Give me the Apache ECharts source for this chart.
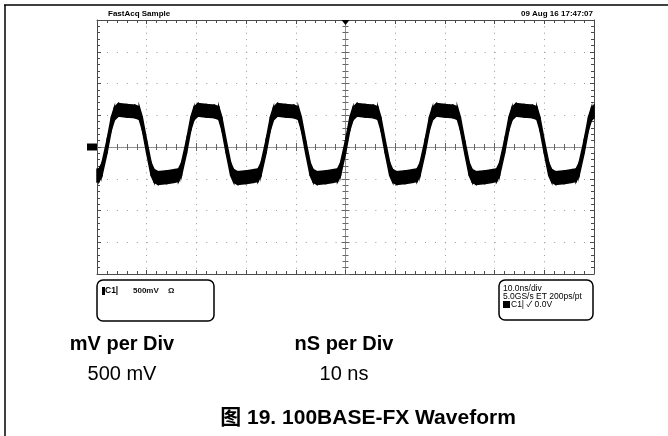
<!DOCTYPE html>
<html><head><meta charset="utf-8">
<script src="https://cdn.jsdelivr.net/npm/echarts@6/dist/echarts.min.js"></script>
<style>html,body{margin:0;padding:0;background:#fff}#c{width:668px;height:436px}</style>
</head><body><div id="c"></div>
<script>
// Scope settings
const nsPerDiv = 10;
const mvPerDiv = 500;
const timeRangeNs = [-50, 50];
const voltRangeMv = [-2000, 2000];

// Waveform (centre of the FastAcq trace)
const timeNs = [
  -50, -49.6, -49, -48, -47.1, -46.5, -45.7, -44, -42.4, -41.5, -40.9, -40, -39.1, -38.5, -37.7, -36, -34.4,
  -33.6, -33, -32, -31.1, -30.5, -29.7, -28, -26.4, -25.5, -24.9, -24, -23.1, -22.5, -21.7, -20, -18.4,
  -17.6, -17, -16, -15.1, -14.5, -13.7, -12, -10.4, -9.5, -8.9, -8, -7.1, -6.5, -5.7, -4, -2.4,
  -1.6, -1, 0, 0.9, 1.5, 2.3, 4, 5.6, 6.5, 7.1, 8, 8.9, 9.5, 10.3, 12, 13.6,
  14.4, 15, 16, 16.9, 17.5, 18.3, 20, 21.6, 22.5, 23.1, 24, 24.9, 25.5, 26.3, 28, 29.6,
  30.4, 31, 32, 32.9, 33.5, 34.3, 36, 37.6, 38.5, 39.1, 40, 40.9, 41.5, 42.3, 44, 45.6,
  46.4, 47, 48, 48.9, 49.5, 50
];
const voltMv = [
  -450, -445, -350, 0, 375, 525, 585, 570, 560, 535, 375, 0, -350, -455, -490, -475, -455,
  -445, -350, 0, 375, 525, 585, 570, 560, 535, 375, 0, -350, -455, -490, -475, -455,
  -445, -350, 0, 375, 525, 585, 570, 560, 535, 375, 0, -350, -455, -490, -475, -455,
  -445, -350, 0, 375, 525, 585, 570, 560, 535, 375, 0, -350, -455, -490, -475, -455,
  -445, -350, 0, 375, 525, 585, 570, 560, 535, 375, 0, -350, -455, -490, -475, -455,
  -445, -350, 0, 375, 525, 585, 570, 560, 535, 375, 0, -350, -455, -490, -475, -455,
  -445, -350, 0, 375, 525, 560
];
// Peak-to-peak thickness of the noisy trace
const traceBandMv = 200;

// Texts
const scopeMode = 'FastAcq Sample';
const scopeDate = '09 Aug 16 17:47:07';
const ch1Label = 'C1|';
const ch1Scale = '500mV';
const ch1Imp = 'Ω';
const timeInfo = ['10.0ns/div', '5.0GS/s ET 200ps/pt', 'C1| \u2713 0.0V'];
const tableHeads = ['mV per Div', 'nS per Div'];
const tableVals = ['500 mV', '10 ns'];
const caption = '图 19. 100BASE-FX Waveform';

const band = timeNs.map((t, i) => [t, voltMv[i] - traceBandMv / 2, voltMv[i] + traceBandMv / 2]);

const FONT = '"Liberation Sans", Arial, "Noto Sans CJK SC", sans-serif';
const frameColor = '#4a4a4a';
const gridDot = '#999';

function xAx(pos, onZero, extra) {
  return Object.assign({
    type: 'value', min: timeRangeNs[0], max: timeRangeNs[1], interval: nsPerDiv,
    position: pos,
    axisLine: onZero ? { show: true, onZero: true, onZeroAxisIndex: 0, lineStyle: { color: '#8a8a8a', type: 'dotted', width: 1 } }
                     : { show: true, onZero: false, lineStyle: { color: frameColor, width: 1 } },
    axisTick: { show: true, inside: true, length: 4, lineStyle: { color: onZero ? '#666' : frameColor } },
    minorTick: { show: true, splitNumber: 5, length: 3, lineStyle: { color: onZero ? '#666' : frameColor } },
    axisLabel: { show: false },
    splitLine: { show: false }
  }, extra || {});
}
function yAx(pos, onZero, extra) {
  return Object.assign({
    type: 'value', min: voltRangeMv[0], max: voltRangeMv[1], interval: mvPerDiv,
    position: pos,
    axisLine: onZero ? { show: true, onZero: true, onZeroAxisIndex: 0, lineStyle: { color: '#8a8a8a', type: 'dotted', width: 1 } }
                     : { show: true, onZero: false, lineStyle: { color: frameColor, width: 1 } },
    axisTick: { show: true, inside: true, length: 4, lineStyle: { color: onZero ? '#666' : frameColor } },
    minorTick: { show: true, splitNumber: 5, length: 3, lineStyle: { color: onZero ? '#666' : frameColor } },
    axisLabel: { show: false },
    splitLine: { show: false }
  }, extra || {});
}

const chart = echarts.init(document.getElementById('c'), null, { renderer: 'canvas' });
chart.setOption({
  animation: false,
  backgroundColor: '#fff',
  grid: { left: 97, top: 20, width: 497, height: 254, show: false },
  xAxis: [
    xAx('bottom', false, { splitLine: { show: true, lineStyle: { color: gridDot, width: 1, type: [1, 5.35] } } }),
    xAx('top', false),
    xAx('bottom', true),
    xAx('top', true)
  ],
  yAxis: [
    yAx('left', false, { splitLine: { show: true, lineStyle: { color: gridDot, width: 1, type: [1, 8.94] } } }),
    yAx('right', false),
    yAx('left', true),
    yAx('right', true)
  ],
  series: [
    {
      type: 'custom', xAxisIndex: 0, yAxisIndex: 0, silent: true,
      data: band,
      encode: { x: 0, y: [1, 2] },
      renderItem: function (params, api) {
        const i = params.dataIndex;
        if (i >= band.length - 1) return null;
        const a = band[i], b = band[i + 1];
        const pts = [api.coord([a[0], a[1]]), api.coord([a[0], a[2]]), api.coord([b[0], b[2]]), api.coord([b[0], b[1]])];
        return { type: 'polygon', shape: { points: pts }, style: { fill: '#000', stroke: '#000', lineWidth: 1.5 } };
      },
      z: 5
    },
    {
      type: 'line', xAxisIndex: 0, yAxisIndex: 0, data: [], silent: true,
      markPoint: {
        silent: true, label: { show: false },
        data: [
          { coord: [0, voltRangeMv[1]], symbol: 'triangle', symbolRotate: 180, symbolSize: [8, 5], symbolOffset: [0, 2.5], itemStyle: { color: '#000' } },
          { coord: [timeRangeNs[0], 0], symbol: 'rect', symbolSize: [10, 7], symbolOffset: [-5, 0], itemStyle: { color: '#000' } }
        ]
      }
    }
  ],
  graphic: [
    { type: 'line', shape: { x1: 4, y1: 5, x2: 668, y2: 5 }, style: { stroke: '#000', lineWidth: 1.5 } },
    { type: 'line', shape: { x1: 5, y1: 5, x2: 5, y2: 436 }, style: { stroke: '#000', lineWidth: 1.5 } },
    { type: 'text', x: 108, y: 14, style: { text: scopeMode, font: 'bold 8px ' + FONT, fill: '#000', align: 'left', verticalAlign: 'middle' } },
    { type: 'text', x: 593, y: 14, style: { text: scopeDate, font: 'bold 8px ' + FONT, fill: '#000', align: 'right', verticalAlign: 'middle' } },
    { type: 'rect', shape: { x: 97, y: 280, width: 117, height: 41, r: 6 }, style: { fill: 'none', stroke: '#000', lineWidth: 1.5 } },
    { type: 'rect', shape: { x: 499, y: 280, width: 94, height: 40, r: 6 }, style: { fill: 'none', stroke: '#000', lineWidth: 1.5 } },
    { type: 'rect', shape: { x: 102, y: 287, width: 3, height: 8 }, style: { fill: '#000' } },
    { type: 'text', x: 105, y: 291, style: { text: ch1Label, font: 'bold 8.5px ' + FONT, fill: '#000', verticalAlign: 'middle' } },
    { type: 'text', x: 133, y: 291, style: { text: ch1Scale, font: 'bold 8px ' + FONT, fill: '#111', verticalAlign: 'middle' } },
    { type: 'text', x: 168, y: 291, style: { text: ch1Imp, font: 'bold 8px ' + FONT, fill: '#111', verticalAlign: 'middle' } },
    { type: 'text', x: 503, y: 289, style: { text: timeInfo[0], font: '8.5px ' + FONT, fill: '#000', verticalAlign: 'middle' } },
    { type: 'text', x: 503, y: 297, style: { text: timeInfo[1], font: '8.5px ' + FONT, fill: '#000', verticalAlign: 'middle' } },
    { type: 'rect', shape: { x: 503, y: 301, width: 7, height: 7 }, style: { fill: '#000' } },
    { type: 'text', x: 511, y: 305, style: { text: timeInfo[2], font: '8.5px ' + FONT, fill: '#000', verticalAlign: 'middle' } },
    { type: 'text', x: 122, y: 344, style: { text: tableHeads[0], font: 'bold 20px ' + FONT, fill: '#000', align: 'center', verticalAlign: 'middle' } },
    { type: 'text', x: 344, y: 344, style: { text: tableHeads[1], font: 'bold 20px ' + FONT, fill: '#000', align: 'center', verticalAlign: 'middle' } },
    { type: 'text', x: 122, y: 374, style: { text: tableVals[0], font: '20px ' + FONT, fill: '#000', align: 'center', verticalAlign: 'middle' } },
    { type: 'text', x: 344, y: 374, style: { text: tableVals[1], font: '20px ' + FONT, fill: '#000', align: 'center', verticalAlign: 'middle' } },
    { type: 'text', x: 368, y: 418, style: { text: caption, font: 'bold 21px ' + FONT, fill: '#000', align: 'center', verticalAlign: 'middle' } }
  ]
});
</script></body></html>
